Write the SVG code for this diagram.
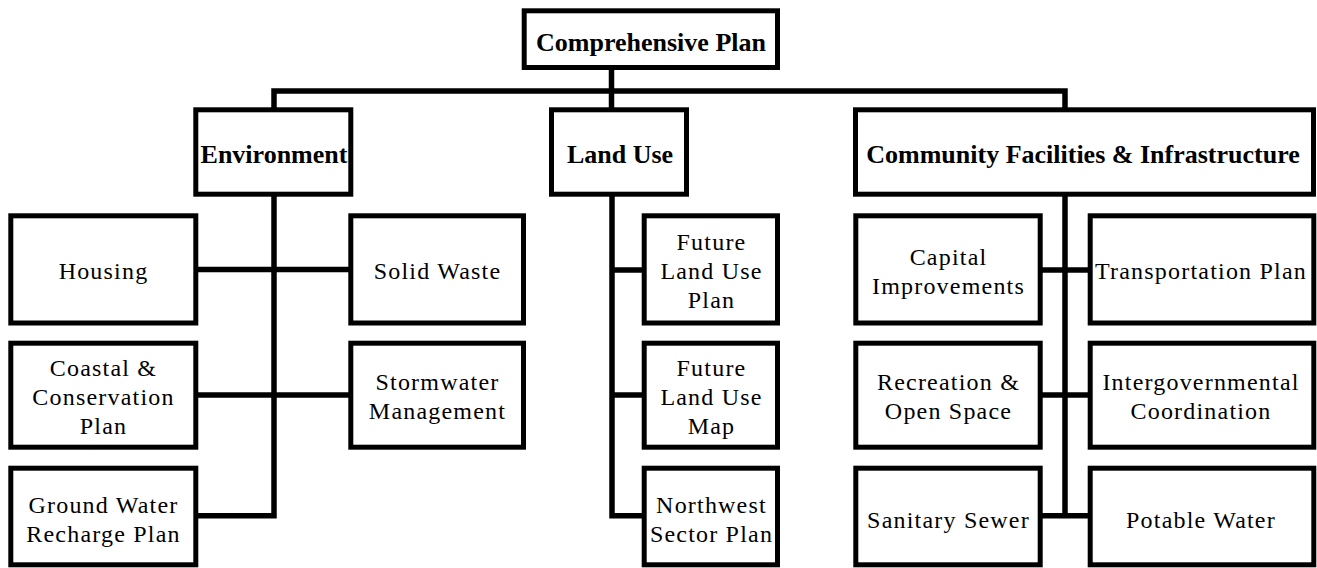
<svg xmlns="http://www.w3.org/2000/svg" width="1317" height="568" viewBox="0 0 1317 568">
<style>
.box{fill:#fff;stroke:#000;stroke-width:5;stroke-linejoin:miter}
.ln{fill:none;stroke:#000;stroke-width:5.5;stroke-linejoin:miter}
.t{font-family:"Liberation Serif","Times New Roman",serif;font-size:24px;letter-spacing:1.2px;fill:#000;text-anchor:middle}
.b{font-family:"Liberation Serif","Times New Roman",serif;font-size:26px;font-weight:bold;fill:#000;text-anchor:middle}
</style>
<rect width="1317" height="568" fill="#fff"/>
<g id="connectors">
<line class="ln" x1="611.5" y1="67.5" x2="611.5" y2="110"/>
<polyline class="ln" points="274,110 274,91 1065,91 1065,110"/>
<polyline class="ln" points="274,194 274,515.7 196,515.7"/>
<line class="ln" x1="196" y1="269.5" x2="351" y2="269.5"/>
<line class="ln" x1="196" y1="395" x2="351" y2="395"/>
<polyline class="ln" points="612,194 612,515.7 644,515.7"/>
<line class="ln" x1="612" y1="270" x2="644" y2="270"/>
<line class="ln" x1="612" y1="395" x2="644" y2="395"/>
<polyline class="ln" points="1065,194 1065,515.7"/>
<line class="ln" x1="1040" y1="270" x2="1090" y2="270"/>
<line class="ln" x1="1040" y1="395" x2="1090" y2="395"/>
<line class="ln" x1="1040" y1="515.7" x2="1090" y2="515.7"/>
</g>
<g id="comprehensive-plan">
<rect class="box" x="524.2" y="10.8" width="253.3" height="56.7"/>
<text class="b" x="651" y="51">Comprehensive Plan</text>
</g>
<g id="environment">
<rect class="box" x="195.8" y="109.8" width="155" height="84.4"/>
<text class="b" x="274" y="163">Environment</text>
</g>
<g id="land-use">
<rect class="box" x="551.5" y="109.8" width="135" height="84.4"/>
<text class="b" x="620" y="163">Land Use</text>
</g>
<g id="community-facilities">
<rect class="box" x="855.5" y="109.8" width="458" height="84.4"/>
<text class="b" x="1083" y="163">Community Facilities &amp; Infrastructure</text>
</g>
<g id="housing">
<rect class="box" x="10.8" y="215.8" width="185" height="107.2"/>
<text class="t" x="103.5" y="278.5">Housing</text>
</g>
<g id="coastal">
<rect class="box" x="10.8" y="343.2" width="185" height="104"/>
<text class="t" x="103.5" y="376">Coastal &amp;</text>
<text class="t" x="103.5" y="405">Conservation</text>
<text class="t" x="103.5" y="434">Plan</text>
</g>
<g id="ground-water">
<rect class="box" x="10.8" y="468.2" width="185" height="96.6"/>
<text class="t" x="103.5" y="513">Ground Water</text>
<text class="t" x="103.5" y="542">Recharge Plan</text>
</g>
<g id="solid-waste">
<rect class="box" x="350.8" y="215.8" width="172.7" height="107.2"/>
<text class="t" x="437.5" y="278.5">Solid Waste</text>
</g>
<g id="stormwater">
<rect class="box" x="350.8" y="343.2" width="172.7" height="104"/>
<text class="t" x="437.5" y="390">Stormwater</text>
<text class="t" x="437.5" y="419">Management</text>
</g>
<g id="future-land-use-plan">
<rect class="box" x="644.2" y="215.8" width="133.3" height="107.2"/>
<text class="t" x="711.5" y="250">Future</text>
<text class="t" x="711.5" y="279">Land Use</text>
<text class="t" x="711.5" y="308">Plan</text>
</g>
<g id="future-land-use-map">
<rect class="box" x="644.2" y="343.2" width="133.3" height="104"/>
<text class="t" x="711.5" y="376">Future</text>
<text class="t" x="711.5" y="405">Land Use</text>
<text class="t" x="711.5" y="434">Map</text>
</g>
<g id="northwest-sector-plan">
<rect class="box" x="644.2" y="468.2" width="133.3" height="96.6"/>
<text class="t" x="711.5" y="513">Northwest</text>
<text class="t" x="711.5" y="542">Sector Plan</text>
</g>
<g id="capital-improvements">
<rect class="box" x="855.8" y="215.8" width="184.4" height="107.2"/>
<text class="t" x="948.5" y="264.5">Capital</text>
<text class="t" x="948.5" y="293.5">Improvements</text>
</g>
<g id="recreation">
<rect class="box" x="855.8" y="343.2" width="184.4" height="104"/>
<text class="t" x="948.5" y="390">Recreation &amp;</text>
<text class="t" x="948.5" y="419">Open Space</text>
</g>
<g id="sanitary-sewer">
<rect class="box" x="855.8" y="468.2" width="184.4" height="96.6"/>
<text class="t" x="948.5" y="528">Sanitary Sewer</text>
</g>
<g id="transportation-plan">
<rect class="box" x="1090.2" y="215.8" width="223.6" height="107.2"/>
<text class="t" x="1201" y="278.5">Transportation Plan</text>
</g>
<g id="intergovernmental">
<rect class="box" x="1090.2" y="343.2" width="223.6" height="104"/>
<text class="t" x="1201" y="390">Intergovernmental</text>
<text class="t" x="1201" y="419">Coordination</text>
</g>
<g id="potable-water">
<rect class="box" x="1090.2" y="468.2" width="223.6" height="96.6"/>
<text class="t" x="1201" y="528">Potable Water</text>
</g>
</svg>
